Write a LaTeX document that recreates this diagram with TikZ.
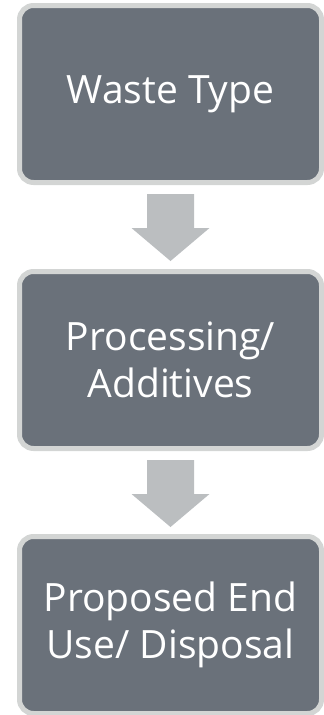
\documentclass[tikz,border=0pt]{standalone}
\usepackage{fontspec}
\setmainfont{Open Sans}
\usetikzlibrary{calc}
\definecolor{boxfill}{HTML}{6A717A}
\definecolor{boxline}{HTML}{D3D5D4}
\definecolor{arrowfill}{HTML}{BBBEC0}
\begin{document}
\begin{tikzpicture}[x=1pt,y=-1pt,
  stagebox/.style={draw=boxline, line width=5pt, fill=boxfill, rounded corners=14pt,
    minimum width=302pt, minimum height=177pt, align=center, text=white,
    font=\fontsize{39}{47.5}\selectfont, inner sep=0pt},
  downarrow/.style={fill=arrowfill, draw=none}]
\useasboundingbox (0,0) rectangle (324,715);
\node[stagebox] (waste) at (170.5,94) {Waste Type};
\node[stagebox] (proc) at (170.5,360) {Processing/\\Additives};
\node[stagebox] (end) at (170.5,625) {Proposed End\\Use/ Disposal};
\coordinate (a1) at ($(waste.south)+(0,9)$);
\coordinate (a2) at ($(proc.south)+(0,9)$);
\foreach \c in {a1,a2}{
  \fill[downarrow] (\c) ++(-23.5,0) -- ++(47,0) -- ++(0,34) -- ++(15.5,0)
    -- ++(-39,33) -- ++(-39,-33) -- ++(15.5,0) -- cycle;
}
\end{tikzpicture}
\end{document}
